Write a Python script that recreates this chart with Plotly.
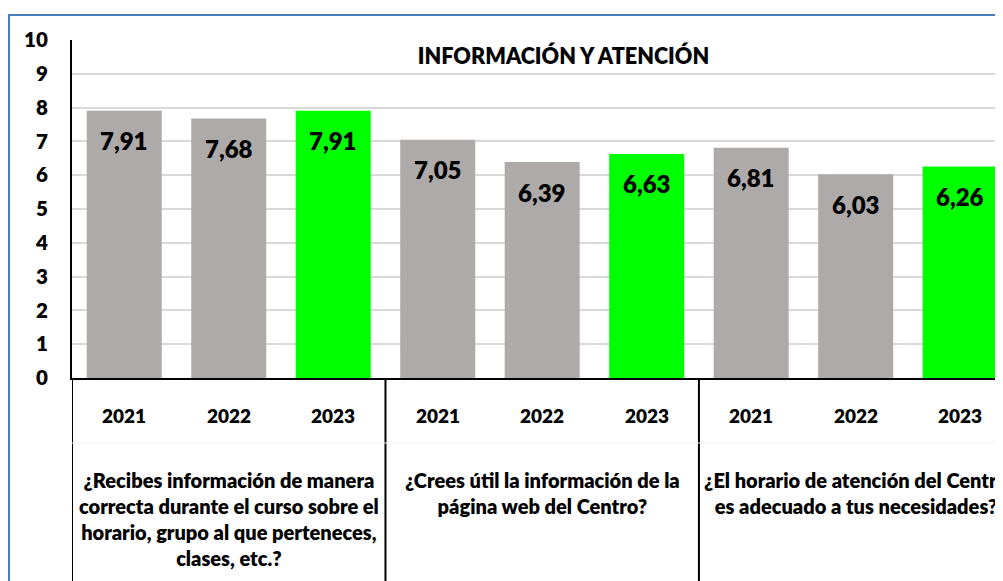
import plotly.graph_objects as go

# ---- data ----
years = ["2021", "2022", "2023"]
questions = [
    "¿Recibes información de manera<br>correcta durante el curso sobre el<br>horario, grupo al que perteneces,<br>clases, etc.?",
    "¿Crees útil la información de la<br>página web del Centro?",
    "¿El horario de atención del Centro<br>es adecuado a tus necesidades?",
]
values_q1 = [7.91, 7.68, 7.91]
values_q2 = [7.05, 6.39, 6.63]
values_q3 = [6.81, 6.03, 6.26]
title_text = "INFORMACIÓN Y ATENCIÓN"
y_ticks = list(range(0, 11))

GRAY = "#AEAAAA"
GREEN = "#00FF00"
FONT = "Lato"
W = 800

all_values = values_q1 + values_q2 + values_q3
x_idx = list(range(len(all_values)))
colors = [GRAY, GRAY, GREEN] * 3

fig = go.Figure()
fig.add_trace(go.Bar(
    x=x_idx, y=all_values, marker=dict(color=colors, line=dict(width=0)),
    hoverinfo="skip", showlegend=False,
))

def py(p):  # page pixel y -> paper y (plot spans page y 40..378)
    return (378 - p) / 338

annotations = []
# data labels
for i, v in enumerate(all_values):
    annotations.append(dict(
        x=i, y=v, xref="x", yref="y", text=f"{v:.2f}".replace(".", ","),
        showarrow=False, yanchor="middle", yshift=-30,
        font=dict(family=FONT, size=24, color="black", weight=W),
    ))
# year labels
for i in x_idx:
    annotations.append(dict(
        x=i, y=py(416), xref="x", yref="paper",
        text=years[i % 3], showarrow=False, yanchor="middle",
        font=dict(family=FONT, size=19, color="black", weight=W),
    ))
# question labels
for g, q in enumerate(questions):
    annotations.append(dict(
        x=g * 3 + 1, y=py(466), xref="x", yref="paper",
        text=q, showarrow=False, yanchor="top", align="center",
        font=dict(family=FONT, size=20, color="black", weight=W),
    ))
# title
annotations.append(dict(
    x=(563 - 72) / 931, y=py(55), xref="paper", yref="paper",
    text=title_text, showarrow=False, xanchor="center", yanchor="middle",
    bgcolor="white", width=325, height=32,
    font=dict(family=FONT, size=21.6, color="black", weight=W),
))

shapes = []
# table vertical lines below axis
for xv in [-0.5, 2.5, 5.5, 8.5]:
    shapes.append(dict(type="line", xref="x", yref="paper", x0=xv, x1=xv,
                       y0=0, y1=-0.62, line=dict(color="black", width=2)))
# faint separator between the year row and the question row
shapes.append(dict(type="line", xref="x", yref="paper", x0=-0.5, x1=8.5,
                   y0=py(443), y1=py(443),
                   line=dict(color="#F0F0F0", width=1)))
# outer chart border
shapes.append(dict(type="rect", xref="paper", yref="paper",
                   x0=(9 - 72) / 931, x1=1.05, y0=-0.8, y1=py(15),
                   line=dict(color="#4A7EBB", width=2), fillcolor="rgba(0,0,0,0)",
                   layer="above"))

# page has an 8px body margin, so the figure is offset by 8px
fig.update_layout(
    width=995, height=573,
    margin=dict(l=64, r=0, t=32, b=203),
    paper_bgcolor="white", plot_bgcolor="white",
    bargap=0.282,
    xaxis=dict(range=[-0.5, 8.41], showticklabels=False, showgrid=False,
               zeroline=False, showline=True, linecolor="black", linewidth=2,
               ticks="", fixedrange=True),
    yaxis=dict(range=[0, 10], tickvals=y_ticks, showgrid=True,
               gridcolor="#D9D9D9", gridwidth=1.5, zeroline=False,
               showline=True, linecolor="black", linewidth=2,
               ticks="", ticklabelstandoff=18,
               tickfont=dict(family=FONT, size=20.5, color="black", weight=W)),
    annotations=annotations, shapes=shapes,
    font=dict(family=FONT),
)

fig.write_html("out.html")
